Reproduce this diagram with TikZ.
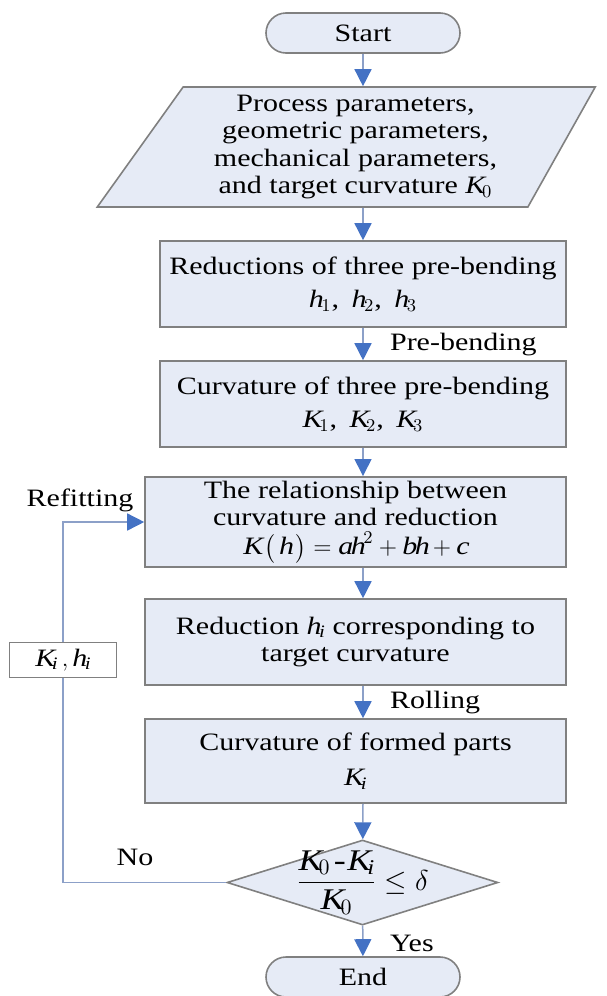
\documentclass[tikz,border=0pt]{standalone}
\usepackage{fontspec}
\setmainfont{Liberation Serif}[FakeStretch=1.2]
\usepackage{amsmath}
\usetikzlibrary{positioning,shapes.geometric,arrows.meta}
\definecolor{boxfill}{RGB}{230,235,246}
\definecolor{boxline}{RGB}{128,128,128}
\definecolor{linkline}{RGB}{140,160,200}
\definecolor{tipblue}{RGB}{68,114,196}

\begin{document}
\begin{tikzpicture}[x=0.5pt,y=-0.5pt,
    font=\fontsize{12.5}{13.65}\selectfont,
    base/.style={draw=boxline,line width=0.8pt,fill=boxfill,align=center,inner sep=2pt},
    term/.style={base,rounded corners=10pt,minimum width=97pt,minimum height=20pt},
    proc/.style={base,minimum height=43pt},
    link/.style={draw=linkline,line width=0.75pt},
    flow/.style={link,-{Triangle[length=8.5pt,width=8.5pt,color=tipblue]}}]
    \useasboundingbox (0,0) rectangle (606,996);
    % main column
    \node[term] (start) at (363,33) {Start};
    \node[base,trapezium,trapezium left angle=57,trapezium right angle=117,trapezium stretches=true,minimum width=249.5pt,minimum height=60pt] (input) at (355.5,147) {Process parameters,\\ geometric parameters,\\ mechanical parameters,\\ and target curvature $\mathit{K}_0$};
    \node[proc,minimum width=203pt] (reduce) at (363,284) {Reductions of three pre-bending\\[3pt] $\mathit{h}_1$,\enspace $\mathit{h}_2$,\enspace $\mathit{h}_3$};
    \node[proc,minimum width=203pt] (curv) at (363,404) {Curvature of three pre-bending\\[3pt] $\mathit{K}_1$,\enspace $\mathit{K}_2$,\enspace $\mathit{K}_3$};
    \node[proc,minimum width=210.5pt] (relate) at (355.5,522) {The relationship between\\ curvature and reduction\\[1pt] $\mathit{K}\,\bigl(\,\mathit{h}\,\bigr)=\mathit{ah}^2+\mathit{bh}+\mathit{c}$};
    \node[proc,minimum width=210.5pt] (target) at (355.5,642) {Reduction $\mathit{h}_{\mathit{i}}$ corresponding to\\ target curvature};
    \node[proc,minimum width=210.5pt,minimum height=42pt] (formed) at (355.5,761) {Curvature of formed parts\\[4pt] $\mathit{K}_{\mathit{i}}$};
    \node[base,diamond,inner sep=0pt,minimum width=135.5pt,minimum height=42.5pt] (check) at (362.5,882.5) {};
    \node[font=\fontsize{15}{18}\selectfont] (checktext) at (check.center) {$\dfrac{\mathit{K}_0\mkern2mu\text{-}\mkern1mu\mathit{K}_{\mathit{i}}}{\mathit{K}_0}\le\delta$};
    \node[term] (finish) at (363,977) {End};
    % feedback
    \node[draw=boxline,line width=0.8pt,fill=white,minimum width=53.5pt,minimum height=15pt] (kh) at (63,660) {$\mathit{K}_{\mathit{i}}\,,\mathit{h}_{\mathit{i}}$};
    % labels
    \node[anchor=west] (prelbl) at (383,345) {Pre-bending};
    \node[anchor=west] (rolllbl) at (383,703) {Rolling};
    \node[anchor=west] (yeslbl) at (383,943) {Yes};
    \node (nolbl) at (135,857) {No};
    \node (refitlbl) at (80,500) {Refitting};
    % connectors
    \draw[flow] (start) -- (start |- input.north);
    \draw[flow] (start |- input.south) -- (reduce);
    \draw[flow] (reduce) -- (curv);
    \draw[flow] (curv) -- (curv |- relate.north);
    \draw[flow] (curv |- relate.south) -- (curv |- target.north);
    \draw[flow] (curv |- target.south) -- (curv |- formed.north);
    \draw[flow] (curv |- formed.south) -- (check);
    \draw[flow] (check) -- (finish);
    \draw[link] (check.west) -| (kh.south);
    \draw[flow] (kh.north) |- (relate.west);
\end{tikzpicture}
\end{document}
